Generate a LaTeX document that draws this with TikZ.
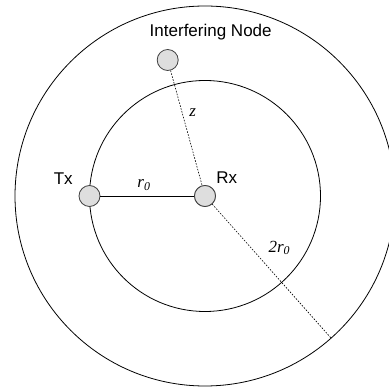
\documentclass[tikz,border=0pt]{standalone}
\usepackage{fontspec}
\setmainfont{Liberation Serif}
\setsansfont{Liberation Sans}
\usetikzlibrary{calc}
\begin{document}
\begin{tikzpicture}[x=1pt,y=-1pt,
  dev/.style={circle,draw=black!75,fill=black!13,line width=0.8pt,minimum size=21pt,inner sep=0pt},
  ring/.style={draw=black,line width=0.8pt},
  dotline/.style={draw=black,line width=0.6pt,dash pattern=on 1.6pt off 1.4pt},
  lab/.style={font=\sffamily\fontsize{17}{20}\selectfont,inner sep=0pt},
  mlab/.style={font=\itshape\fontsize{17}{20}\selectfont,inner sep=0pt}]
\useasboundingbox (0,0) rectangle (389,387);
\coordinate (c) at (205,196);
\begin{scope}
\clip (0,0) rectangle (389,387);
\draw[ring] (c) circle[radius=190];
\draw[ring] (c) circle[radius=115.5];
\end{scope}
\coordinate (e) at (331,338);
\node[dev] (tx) at (89.5,196) {};
\node[dev] (rx) at (205,196) {};
\node[dev] (in) at (167.7,60) {};
\draw[line width=0.8pt] (tx) -- (rx);
\draw[dotline] (in) -- (rx.center);
\draw[dotline] (rx) -- (e);
\node[dev] at (rx) {};
\node[lab] (ltx) at (63.3,179) {Tx};
\node[lab] (lrx) at (226.7,178) {Rx};
\node[lab] (lin) at (210.7,32.3) {Interfering Node};
\node[mlab] (lr0) at (144,185) {r\textsubscript{0}};
\node[mlab] (lz) at (192.7,113) {z};
\node[mlab] (l2r) at (279.3,248) {2r\textsubscript{0}};
\end{tikzpicture}
\end{document}
